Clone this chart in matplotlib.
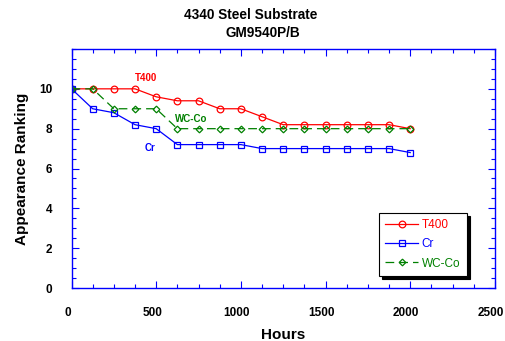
import matplotlib
matplotlib.use("Agg")
import matplotlib.pyplot as plt
from matplotlib.ticker import MultipleLocator
from matplotlib.transforms import ScaledTranslation

hours = [0, 125, 250, 375, 500, 625, 750, 875, 1000, 1125, 1250, 1375, 1500, 1625, 1750, 1875, 2000]
t400 = [10, 10, 10, 10, 9.6, 9.4, 9.4, 9.0, 9.0, 8.6, 8.2, 8.2, 8.2, 8.2, 8.2, 8.2, 8.0]
cr = [10, 9.0, 8.8, 8.2, 8.0, 7.2, 7.2, 7.2, 7.2, 7.0, 7.0, 7.0, 7.0, 7.0, 7.0, 7.0, 6.8]
wcco = [10, 10, 9.0, 9.0, 9.0, 8.0, 8.0, 8.0, 8.0, 8.0, 8.0, 8.0, 8.0, 8.0, 8.0, 8.0, 8.0]
xticks = [0, 500, 1000, 1500, 2000, 2500]
yticks = [0, 2, 4, 6, 8, 10]

RED = '#ff0000'
BLUE = '#0000ff'
GREEN = '#008000'

plt.rcParams['font.family'] = ['Liberation Sans', 'DejaVu Sans']

fig = plt.figure(figsize=(5.05, 3.41), dpi=100)
ax = fig.add_axes([0.1416, 0.1554, 0.8384, 0.7009])

ax.plot(hours, t400, color=RED, lw=0.9, marker='o', ms=4.8, mfc='none', mec=RED, mew=0.9, label='T400')
ax.plot(hours, cr, color=BLUE, lw=0.9, marker='s', ms=4.8, mfc='none', mec=BLUE, mew=0.9, label='Cr')
ax.plot(hours, wcco, color=GREEN, lw=0.9, ls=(0, (7, 4)), marker='D', ms=3.4, mfc='none', mec=GREEN, mew=0.9, label='WC-Co')

ax.set_xlim(0, 2500)
ax.set_ylim(0, 12)
ax.set_xticks(xticks)
ax.set_yticks(yticks)
ax.xaxis.set_minor_locator(MultipleLocator(125))
ax.yaxis.set_minor_locator(MultipleLocator(0.5))
ax.tick_params(which='both', direction='in', top=True, right=True, color=BLUE, width=0.8)
ax.tick_params(which='major', length=5, labelsize=8.5, pad=14)
ax.tick_params(which='minor', length=3)
shift = ScaledTranslation(-4 / 100, 0, fig.dpi_scale_trans)
for lab in ax.get_xticklabels():
    lab.set_fontweight('bold')
    lab.set_transform(lab.get_transform() + shift)
for lab in ax.get_yticklabels():
    lab.set_fontweight('bold')
for s in ax.spines.values():
    s.set_color(BLUE)
    s.set_linewidth(1.0)

ax.set_xlabel('Hours', fontsize=11, fontweight='bold', labelpad=6)
ax.set_ylabel('Appearance Ranking', fontsize=11, fontweight='bold', labelpad=7)

fig.text(0.497, 0.956, '4340 Steel Substrate', ha='center', va='center', fontsize=9.8, fontweight='bold')
fig.text(0.52, 0.903, 'GM9540P/B', ha='center', va='center', fontsize=9.8, fontweight='bold')

ax.text(439, 10.55, 'T400', color=RED, fontsize=7, fontweight='bold', ha='center', va='center')
ax.text(704, 8.5, 'WC-Co', color=GREEN, fontsize=7, fontweight='bold', ha='center', va='center')
ax.text(463, 7.05, 'Cr', color=BLUE, fontsize=7, fontweight='bold', ha='center', va='center')

leg = ax.legend(loc='lower right', bbox_to_anchor=(0.934, 0.05), borderaxespad=0, fontsize=8.5,
                frameon=True, fancybox=False, shadow={'color': 'black', 'alpha': 1.0},
                edgecolor='black', handlelength=2.8, handletextpad=0.3, borderpad=0.55,
                labelspacing=0.6)
leg.get_frame().set_linewidth(0.8)
for text, c in zip(leg.get_texts(), [RED, BLUE, GREEN]):
    text.set_color(c)

fig.savefig('out.png', dpi=100)
